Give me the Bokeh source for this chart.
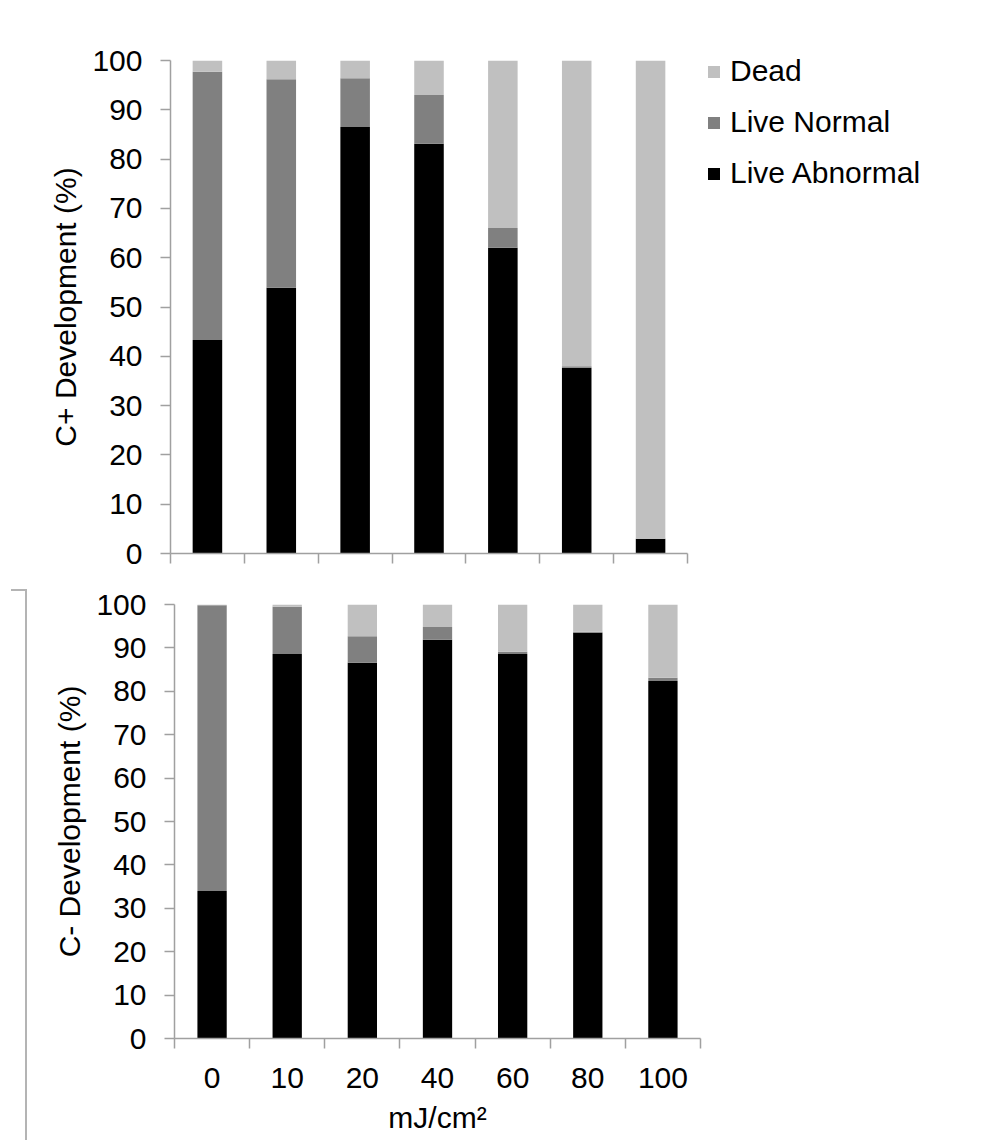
from bokeh.plotting import figure
from bokeh.models import (Range1d, FixedTicker, Legend, LegendItem,
                          ColumnDataSource, Div)
from bokeh.layouts import column, row
from bokeh.embed import file_html
from bokeh.resources import INLINE

# ---------------- data ----------------
doses = ["0", "10", "20", "40", "60", "80", "100"]
series_names = ["Live Abnormal", "Live Normal", "Dead"]
series_colors = ["#000000", "#808080", "#c0c0c0"]

cplus_abnormal = [43.3, 53.9, 86.5, 83.1, 62.0, 37.7, 3.0]
cplus_normal = [54.4, 42.3, 9.9, 9.9, 4.0, 0.3, 0.0]
cplus_dead = [2.3, 3.8, 3.6, 7.0, 34.0, 62.0, 97.0]

cminus_abnormal = [34.0, 88.6, 86.6, 91.9, 88.6, 93.5, 82.4]
cminus_normal = [65.8, 10.9, 6.1, 2.9, 0.5, 0.2, 0.7]
cminus_dead = [0.2, 0.5, 7.3, 5.2, 10.9, 6.3, 16.9]

y_ticks = list(range(0, 101, 10))

FONT = "Liberation Sans"
FS = "30px"
AXIS_COLOR = "#a0a0a0"


def make_fig(abn, norm, dead, ylabel, xlabel, frame_w, frame_h, bar_w,
             b_left, b_right, b_top, b_bottom, show_xlabels):
    n = len(doses)
    centers = [i + 0.5 for i in range(n)]
    src = ColumnDataSource(dict(x=centers, abn=abn, norm=norm, dead=dead))
    p = figure(x_range=Range1d(0, n), y_range=Range1d(0, 100),
               frame_width=frame_w, frame_height=frame_h,
               min_border_left=b_left, min_border_right=b_right,
               min_border_top=b_top, min_border_bottom=b_bottom,
               output_backend="svg", toolbar_location=None,
               background_fill_color="white", border_fill_color="white")
    rs = p.vbar_stack(["abn", "norm", "dead"], x="x", width=bar_w,
                      fill_color=series_colors, line_color=None, source=src)
    p.grid.visible = False
    p.outline_line_color = None

    # y axis
    ya = p.yaxis[0]
    ya.ticker = FixedTicker(ticks=y_ticks)
    ya.axis_line_color = AXIS_COLOR
    ya.axis_line_width = 1.5
    ya.major_tick_line_color = AXIS_COLOR
    ya.major_tick_line_width = 1.5
    ya.major_tick_out = 10
    ya.major_tick_in = 0
    ya.minor_tick_line_color = None
    ya.major_label_text_font = FONT
    ya.major_label_text_font_size = FS
    ya.major_label_text_color = "black"
    ya.major_label_standoff = 18
    ya.axis_label = ylabel
    ya.axis_label_text_font = FONT
    ya.axis_label_text_font_size = FS
    ya.axis_label_text_font_style = "normal"
    ya.axis_label_text_color = "black"
    ya.axis_label_standoff = 7

    # x axis: labels at category centres, ticks at category boundaries
    xa = p.xaxis[0]
    xa.ticker = FixedTicker(ticks=centers, minor_ticks=list(range(n + 1)))
    xa.axis_line_color = AXIS_COLOR
    xa.axis_line_width = 1.5
    xa.major_tick_line_color = None
    xa.major_tick_out = 0
    xa.major_tick_in = 0
    xa.minor_tick_line_color = AXIS_COLOR
    xa.minor_tick_line_width = 1.5
    xa.minor_tick_out = 10
    xa.minor_tick_in = 0
    if show_xlabels:
        xa.major_label_overrides = {c: d for c, d in zip(centers, doses)}
        xa.major_label_text_font = FONT
        xa.major_label_text_color = "black"
        xa.major_label_text_font_size = FS
        xa.major_label_standoff = 19
        xa.axis_label = xlabel
        xa.axis_label_text_font = FONT
        xa.axis_label_text_font_size = FS
        xa.axis_label_text_font_style = "normal"
        xa.axis_label_text_color = "black"
        xa.axis_label_standoff = 10
    else:
        xa.major_label_text_font_size = "0px"
        xa.major_label_text_alpha = 0
        xa.major_label_standoff = 0
    return p, rs


top, rs = make_fig(cplus_abnormal, cplus_normal, cplus_dead,
                   "C+ Development (%)", None, 517, 493, 0.4,
                   170, 30, 60, 25, False)

legend = Legend(items=[LegendItem(label=series_names[2], renderers=[rs[2]]),
                       LegendItem(label=series_names[1], renderers=[rs[1]]),
                       LegendItem(label=series_names[0], renderers=[rs[0]])],
                location=(19, 363))
legend.label_text_font = FONT
legend.label_text_font_size = FS
legend.label_text_color = "black"
legend.glyph_width = 15
legend.glyph_height = 15
legend.label_height = 34
legend.label_standoff = 9
legend.spacing = 17
legend.padding = 0
legend.margin = 0
legend.border_line_color = None
legend.background_fill_alpha = 0
top.add_layout(legend, "right")

bottom, _ = make_fig(cminus_abnormal, cminus_normal, cminus_dead,
                     "C- Development (%)", "mJ/cm\u00b2", 526, 434, 0.39,
                     147, 30, 26, 102, True)

edge = Div(text="", width=16, height=551, margin=(11, 0, 0, 11),
           styles={"border-top": "2px solid #b4b4b4",
                   "border-right": "2px solid #b4b4b4",
                   "box-sizing": "border-box"})

layout = column(top, row(edge, bottom, spacing=0), spacing=0)

open("out.html", "w").write(file_html(layout, INLINE))
